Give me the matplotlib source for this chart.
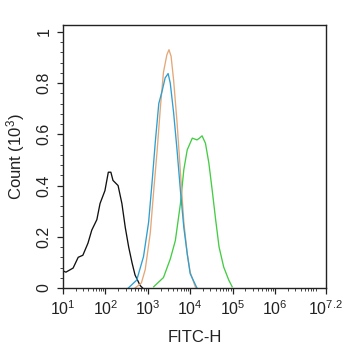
import numpy as np
import matplotlib
matplotlib.use("Agg")
import matplotlib.pyplot as plt
from matplotlib.ticker import FixedLocator, NullFormatter, LogLocator

plt.rcParams['font.family'] = ['Liberation Sans', 'DejaVu Sans']

# Histogram traces: log10(FITC-H) positions and counts (x10^3)
black_log = [1.0, 1.07, 1.24, 1.36, 1.47, 1.59, 1.68, 1.80, 1.875, 1.99, 2.07, 2.13,
             2.18, 2.30, 2.39, 2.47, 2.55, 2.63, 2.70, 2.82, 2.88]
black_cnt = [0.067, 0.062, 0.078, 0.12, 0.128, 0.175, 0.226, 0.267, 0.33, 0.38, 0.452, 0.452,
             0.42, 0.40, 0.33, 0.236, 0.16, 0.098, 0.051, 0.01, 0.0]

orange_log = [2.70, 2.85, 2.94, 3.06, 3.14, 3.22, 3.30, 3.37, 3.45, 3.50, 3.55, 3.61,
              3.69, 3.77, 3.85, 3.93, 4.00, 4.12, 4.15]
orange_cnt = [0.0, 0.02, 0.072, 0.216, 0.38, 0.534, 0.71, 0.842, 0.91, 0.93, 0.904, 0.81,
              0.647, 0.452, 0.257, 0.134, 0.062, 0.005, 0.0]

blue_log = [2.54, 2.74, 2.90, 3.02, 3.10, 3.18, 3.26, 3.34, 3.41, 3.48, 3.53, 3.61,
            3.69, 3.77, 3.85, 3.93, 4.00, 4.16]
blue_cnt = [0.0, 0.031, 0.123, 0.257, 0.41, 0.575, 0.72, 0.77, 0.82, 0.837, 0.80, 0.683,
            0.539, 0.38, 0.236, 0.134, 0.056, 0.0]

green_log = [3.14, 3.37, 3.53, 3.65, 3.77, 3.85, 3.93, 4.05, 4.16, 4.22, 4.28, 4.36,
             4.44, 4.52, 4.60, 4.68, 4.79, 4.91, 4.99]
green_cnt = [0.005, 0.041, 0.113, 0.185, 0.329, 0.462, 0.539, 0.585, 0.578, 0.585, 0.594, 0.565,
             0.488, 0.38, 0.267, 0.161, 0.082, 0.031, 0.005]

x_tick_exp = ['1', '2', '3', '4', '5', '6', '7.2']
y_ticks = [0, 0.2, 0.4, 0.6, 0.8, 1]
y_tick_labels = ['0', '0.2', '0.4', '0.6', '0.8', '1']

fig = plt.figure(figsize=(3.42, 3.50), dpi=100)
ax = fig.add_axes([0.184, 0.177, 0.769, 0.752])

series = [
    (black_log, black_cnt, '#111111'),
    (green_log, green_cnt, '#44cc44'),
    (orange_log, orange_cnt, '#e4a878'),
    (blue_log, blue_cnt, '#2f9fd0'),
]
for lg, cnt, col in series:
    ax.plot(10 ** np.array(lg), cnt, color=col, lw=0.95)

ax.set_xscale('log')
ax.set_xlim(10 ** 1, 10 ** 7.2)
ax.set_ylim(0, 1.027)

xt = [10 ** float(e) for e in x_tick_exp]
ax.xaxis.set_major_locator(FixedLocator(xt))
ax.set_xticklabels([r'$\mathregular{10^{%s}}$' % e for e in x_tick_exp])
ax.xaxis.set_minor_locator(LogLocator(base=10, subs=np.arange(2, 10), numticks=20))
ax.xaxis.set_minor_formatter(NullFormatter())

ax.set_yticks(y_ticks)
ax.set_yticklabels(y_tick_labels, rotation=90, va='center')
ax.set_yticks(np.arange(0, 1.03, 0.04), minor=True)

ax.tick_params(which='major', length=4, width=0.9, color='#222222',
               labelsize=11.5, labelcolor='#222222', pad=4)
ax.tick_params(which='minor', length=2.2, width=0.7, color='#444444')
for s in ax.spines.values():
    s.set_linewidth(1.0)
    s.set_color('#222222')

ax.set_xlabel('FITC-H', fontsize=12, color='#222222', labelpad=9)
ax.set_ylabel(r'Count ($\mathregular{10^3}$)', fontsize=12, color='#222222', labelpad=7)

fig.savefig('out.png', dpi=100)
